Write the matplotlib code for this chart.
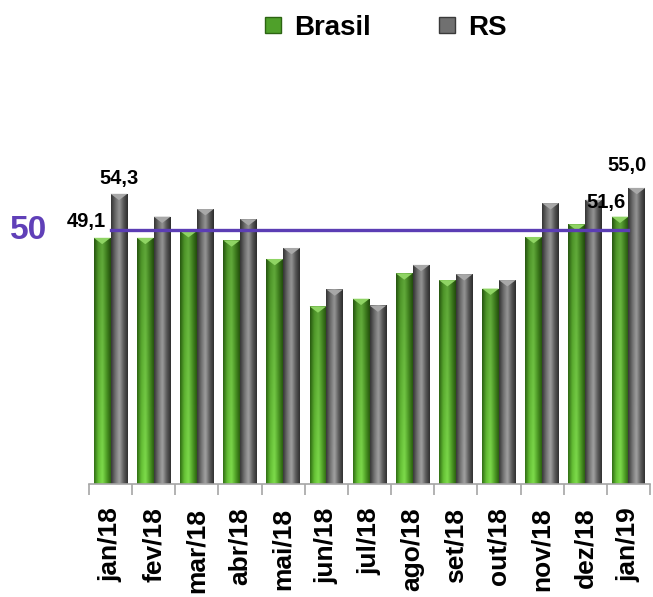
import numpy as np
import matplotlib
matplotlib.use("Agg")
import matplotlib.pyplot as plt
from matplotlib.colors import LinearSegmentedColormap
from matplotlib.patches import Polygon
from matplotlib.lines import Line2D
import matplotlib.transforms as mtransforms

plt.rcParams['font.family'] = ['Liberation Sans', 'DejaVu Sans']
plt.rcParams['font.weight'] = 'bold'

meses = ["jan/18", "fev/18", "mar/18", "abr/18", "mai/18", "jun/18", "jul/18",
         "ago/18", "set/18", "out/18", "nov/18", "dez/18", "jan/19"]
brasil = [49.1, 49.1, 49.9, 48.8, 46.6, 41.0, 41.9, 44.9, 44.1, 43.1, 49.2, 50.7, 51.6]
rs = [54.3, 51.6, 52.5, 51.3, 47.9, 43.0, 41.1, 45.9, 44.8, 44.1, 53.2, 53.6, 55.0]
referencia = 50

ymin, ymax = 20, 60
w = 0.39
x = np.arange(len(meses))

fig = plt.figure(figsize=(6.53, 5.97), dpi=100)
ax = fig.add_axes([89 / 653, (597 - 484) / 597, 561 / 653, (40 * 8.46) / 597])

cm_verde = LinearSegmentedColormap.from_list(
    "verde", ["#2c6412", "#5cb030", "#74ca46", "#4a9424", "#285a0e"])
cm_cinza = LinearSegmentedColormap.from_list(
    "cinza", ["#353535", "#6e6e6e", "#9c9c9c", "#5a5a5a", "#2e2e2e"])


def gradiente(cmap, v0, v1):
    h = cmap(np.linspace(0, 1, 64))[:, :3][None, :, :]
    v = np.linspace(v0, v1, 64)[:, None, None]
    return np.clip(h * v, 0, 1)


def desenha(pos, vals, cmap, topo, v0, v1):
    img = gradiente(cmap, v0, v1)
    bars = ax.bar(pos, vals, w, bottom=0, color="none", edgecolor="none")
    for b in bars:
        x0, x1 = b.get_x(), b.get_x() + b.get_width()
        h = b.get_height()
        im = ax.imshow(img, extent=[x0, x1, ymin, h], aspect="auto",
                       zorder=2, interpolation="bicubic")
        im.set_clip_path(b)
        d = 0.75
        tri = Polygon([[x0, h], [x1, h], [(x0 + x1) / 2, h - d]],
                      closed=True, facecolor=topo, edgecolor="none", zorder=3)
        ax.add_patch(tri)
    return bars


desenha(x - w / 2, brasil, cm_verde, "#8fd464", 0.82, 1.1)
desenha(x + w / 2, rs, cm_cinza, "#a8a8a8", 0.95, 1.05)

ax.plot([x[0], x[-1]], [referencia, referencia], color="#5b3db4", lw=2.4, zorder=4)

trans = mtransforms.blended_transform_factory(ax.transAxes, ax.transData)
ax.text(-0.108, referencia, "50", transform=trans, ha="center", va="center",
        fontsize=24, fontweight="bold", color="#6040b8")

# rótulos de dados
kw = dict(textcoords="offset points", va="center", fontsize=14.5, fontweight="bold", zorder=5)
ax.annotate("49,1", (x[0] - w / 2, brasil[0]), xytext=(3, 12), ha="right", **kw)
ax.annotate("54,3", (x[0] + w / 2, rs[0]), xytext=(0, 11), ha="center", **kw)
ax.annotate("51,6", (x[-1] - w / 2, brasil[-1]), xytext=(-10, 10), ha="center", **kw)
ax.annotate("55,0", (x[-1] + w / 2, rs[-1]), xytext=(-7, 16), ha="center", **kw)

ax.set_xlim(-0.5, len(meses) - 0.5)
ax.set_ylim(ymin, ymax)
ax.set_yticks([])
for s in ["top", "right", "left"]:
    ax.spines[s].set_visible(False)
ax.spines["bottom"].set_color("#a6a6a6")
ax.spines["bottom"].set_linewidth(1.2)

ax.set_xticks(x)
ax.set_xticklabels(meses, rotation=90, fontsize=19, fontweight="bold")
ax.tick_params(axis="x", which="major", length=0, pad=17)
ax.set_xticks(np.arange(-0.5, len(meses), 1), minor=True)
ax.tick_params(axis="x", which="minor", length=8, color="#a6a6a6", width=1.2)

handles = [
    Line2D([], [], marker="s", ls="none", markersize=11, markerfacecolor="#4fa02a",
           markeredgecolor="#2c6412", label="Brasil"),
    Line2D([], [], marker="s", ls="none", markersize=11, markerfacecolor="#707070",
           markeredgecolor="#3a3a3a", label="RS"),
]
fig.legend(handles=handles, loc="center", bbox_to_anchor=(0.59, 0.953), ncol=2,
           frameon=False, handlelength=0.7, handletextpad=0.4,
           columnspacing=2.4, prop={"weight": "bold", "size": 20})

fig.savefig("out.png", dpi=100)
